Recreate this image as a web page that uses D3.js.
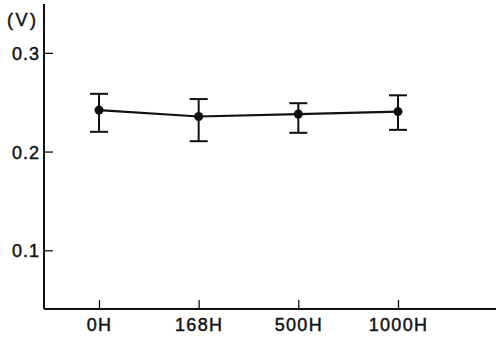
<!DOCTYPE html>
<html>
<head>
<meta charset="utf-8">
<script src="https://cdn.jsdelivr.net/npm/d3@7"></script>
<style>
  body { margin: 0; background: #fff; }
  text { font-family: "Liberation Sans", Arial, sans-serif; fill: #111; stroke: #111; stroke-width: 0.45px; }
</style>
</head>
<body>
<svg></svg>
<script>
var categories = ["0H", "168H", "500H", "1000H"];
var means = [0.242, 0.2355, 0.238, 0.2405];
var upper = [0.2585, 0.2532, 0.249, 0.257];
var lower = [0.220, 0.2105, 0.219, 0.222];
var yTicks = [0.1, 0.2, 0.3];

var margin = { top: 4, right: 0, bottom: 28, left: 44 };
var width = 496 - margin.left - margin.right;
var height = 337 - margin.top - margin.bottom;

var svg = d3.select("svg")
    .attr("width", 496)
    .attr("height", 337)
    .append("g")
    .attr("transform", `translate(${margin.left},${margin.top})`);

var data = categories.map((c, i) => ({ cat: c, mean: means[i], hi: upper[i], lo: lower[i] }));

// categories sit at x = 55, 155, 254, 354 inside plot
var x = d3.scalePoint()
    .domain(categories)
    .range([55, 354]);

var y = d3.scaleLinear()
    .domain([0.0405, 0.3495])
    .range([height, 0]);

// y axis, ticks pointing inward
var yAxis = svg.append("g")
    .call(d3.axisRight(y).tickValues(yTicks).tickSize(9).tickFormat(d3.format(".1f")));
yAxis.select(".domain").attr("d", `M0,0V${height}`).attr("stroke", "#111").attr("stroke-width", 2);
yAxis.selectAll(".tick line").attr("stroke", "#111").attr("stroke-width", 1.3);
yAxis.selectAll(".tick text")
    .attr("x", -4)
    .attr("dy", "0.36em")
    .attr("text-anchor", "end")
    .style("font-size", "18px")
    .style("letter-spacing", "1px");

svg.append("text")
    .attr("x", -37)
    .attr("y", 22)
    .style("font-size", "18px")
    .style("letter-spacing", "2.5px")
    .text("(V)");

// x axis, ticks pointing up
var xAxis = svg.append("g")
    .attr("transform", `translate(0,${height})`)
    .call(d3.axisTop(x).tickSize(9));
xAxis.select(".domain").attr("d", `M0,0H${width}`).attr("stroke", "#111").attr("stroke-width", 2);
xAxis.selectAll(".tick line").attr("stroke", "#111").attr("stroke-width", 1.3);
xAxis.selectAll(".tick text")
    .attr("y", 22)
    .attr("dy", 0)
    .style("font-size", "18px")
    .style("letter-spacing", "1.3px");

// error bars
var eb = svg.selectAll(".err")
    .data(data)
    .enter().append("g")
    .attr("class", "err")
    .attr("stroke", "#111")
    .attr("stroke-width", 2);
eb.append("line")
    .attr("x1", d => x(d.cat)).attr("x2", d => x(d.cat))
    .attr("y1", d => y(d.hi)).attr("y2", d => y(d.lo));
eb.append("line")
    .attr("x1", d => x(d.cat) - 9).attr("x2", d => x(d.cat) + 9)
    .attr("y1", d => y(d.hi)).attr("y2", d => y(d.hi));
eb.append("line")
    .attr("x1", d => x(d.cat) - 9).attr("x2", d => x(d.cat) + 9)
    .attr("y1", d => y(d.lo)).attr("y2", d => y(d.lo));

// mean line
svg.append("path")
    .datum(data)
    .attr("fill", "none")
    .attr("stroke", "#111")
    .attr("stroke-width", 2.2)
    .attr("d", d3.line().x(d => x(d.cat)).y(d => y(d.mean)));

svg.selectAll(".dot")
    .data(data)
    .enter().append("circle")
    .attr("class", "dot")
    .attr("cx", d => x(d.cat))
    .attr("cy", d => y(d.mean))
    .attr("r", 4.5)
    .attr("fill", "#111");
</script>
</body>
</html>
